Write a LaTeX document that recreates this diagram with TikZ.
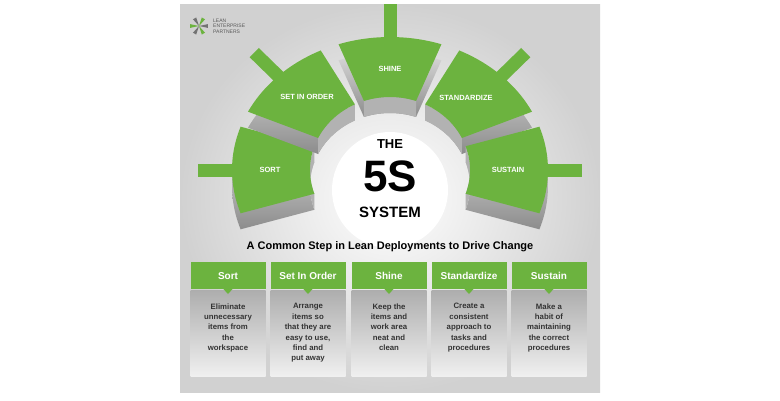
\documentclass[tikz,border=0pt]{standalone}
\usepackage{fontspec}
\setmainfont{Liberation Sans}
\begin{document}
\begin{tikzpicture}[x=1pt,y=-1pt,
  gtxt/.style={text=white,font=\bfseries\fontsize{7.5}{9}\selectfont},
  hdr/.style={fill=lgreen,text=white,font=\bfseries\fontsize{10}{12}\selectfont,minimum width=75pt,minimum height=27pt,inner sep=0pt,anchor=north},
  bodytxt/.style={text=black!80,font=\bfseries\fontsize{7.8}{10.4}\selectfont,align=center,anchor=north}]
\definecolor{lgreen}{HTML}{6CB33F}
\useasboundingbox (0,0) rectangle (780,400);
\fill[white] (0,0) rectangle (780,400);
\shade[inner color=white,outer color=black!18] (180,4) rectangle (600,392);
% logo
\foreach \a/\c in {0/black!55,60/lgreen,120/black!55,180/lgreen,240/black!55,300/lgreen}
  \fill[\c] (199,26) -- ({199+9*cos(\a-12)},{26+9*sin(\a-12)}) -- ({199+9*cos(\a+12)},{26+9*sin(\a+12)}) -- cycle;
\node[anchor=west,align=left,text=black!65,font=\fontsize{5}{5.5}\selectfont,inner sep=0pt] (logo) at (213,26) {LEAN\\ENTERPRISE\\PARTNERS};
% sectors
\newcommand\mysec[3]{plot[domain=#1:#2,samples=24] ({390+158*cos(\x)},{170+#3-133*sin(\x)}) -- plot[domain=#2:#1,samples=24] ({390+80*cos(\x)},{170+#3-73*sin(\x)}) -- cycle}
\foreach \m in {180,135,90,45,0}{
  \shade[top color=black!15,bottom color=black!45] \mysec{\m-19}{\m+19}{16};
  \fill[black!30] plot[domain=\m-19:\m+19,samples=24] ({390+80*cos(\x)},{170-73*sin(\x)}) -- plot[domain=\m+19:\m-19,samples=24] ({390+80*cos(\x)},{186-73*sin(\x)}) -- cycle;
  \draw[line width=13pt,lgreen] ({390+150*cos(\m)},{170-125*sin(\m)}) -- ({390+192*cos(\m)},{170-166*sin(\m)});
  \fill[lgreen] \mysec{\m-19}{\m+19}{0};
}
\node[gtxt] (s1) at (270,170) {SORT};
\node[gtxt] (s2) at (307,97) {SET IN ORDER};
\node[gtxt] (s3) at (390,69) {SHINE};
\node[gtxt] (s4) at (466,98) {STANDARDIZE};
\node[gtxt] (s5) at (508,170) {SUSTAIN};
% centre
\fill[white] (390,190) circle (58);
\node[font=\bfseries\fontsize{13}{13}\selectfont] (the) at (390,144) {THE};
\node[font=\bfseries\fontsize{44}{44}\selectfont,inner sep=0pt] (five) at (390,176) {5S};
\node[font=\bfseries\fontsize{15}{15}\selectfont] (sys) at (390,212) {SYSTEM};
% title
\node[font=\bfseries\fontsize{11}{13}\selectfont] (title) at (390,247) {A Common Step in Lean Deployments to Drive Change};
% boxes
\foreach \i/\x/\h/\b in {1/228/Sort/{Eliminate\\unnecessary\\items from\\the\\workspace},
  2/308/Set In Order/{Arrange\\items so\\that they are\\easy to use,\\find and\\put away},
  3/389/Shine/{Keep the\\items and\\work area\\neat and\\clean},
  4/469/Standardize/{Create a\\consistent\\approach to\\tasks and\\procedures},
  5/549/Sustain/{Make a\\habit of\\maintaining\\the correct\\procedures}}{
  \shade[top color=black!32,bottom color=black!6] (\x-37.5,290) rectangle (\x+37.5,376);
  \node[hdr] (h\i) at (\x,262) {\h};
  \fill[lgreen] (\x-5,288.5) -- (\x+5,288.5) -- (\x,294) -- cycle;
  \node[bodytxt] (b\i) at (\x,300) {\b};
}
\end{tikzpicture}
\end{document}
